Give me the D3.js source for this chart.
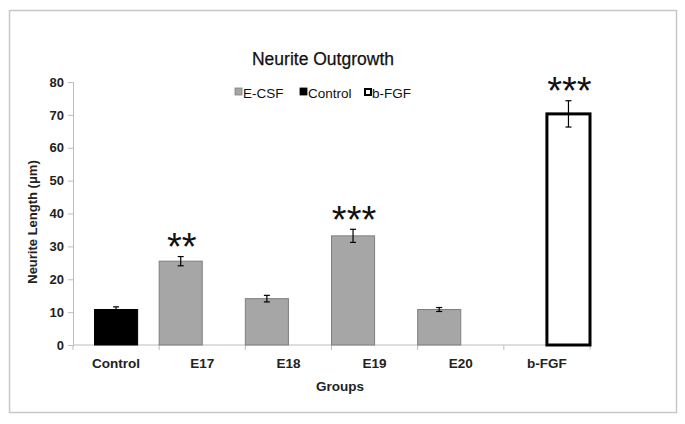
<!DOCTYPE html>
<html><head><meta charset="utf-8">
<script src="https://cdn.jsdelivr.net/npm/d3@7"></script>
<style>body{margin:0;background:#fff}svg{display:block}text{font-family:"Liberation Sans",Arial,sans-serif}</style>
</head><body><svg id="c" width="685" height="424"></svg>
<script>
const categories = ["Control","E17","E18","E19","E20","b-FGF"];
const series = ["E-CSF","Control","b-FGF"];
const seriesOf = ["Control","E-CSF","E-CSF","E-CSF","E-CSF","b-FGF"];
const values = [10.8, 25.5, 14.1, 33.2, 10.8, 70.3];
const errors = [0.8, 1.4, 1.0, 2.0, 0.6, 4.0];
const stars = ["", "**", "", "***", "", "***"];
const yTicks = [0,10,20,30,40,50,60,70,80];

const svg = d3.select("#c");
svg.append("rect").attr("x",9.5).attr("y",10.5).attr("width",667).attr("height",402)
  .attr("fill","#fff").attr("stroke","#c8c8c8").attr("stroke-width",1.5);

const m = {l:73, r:590, t:82, b:345};
const x = d3.scaleBand().domain(categories).range([m.l,m.r]).padding(0);
const y = d3.scaleLinear().domain([0,80]).range([m.b,m.t]);
const bw = x.bandwidth()/2;
const offset = {"E-CSF":0, "Control":0.25, "b-FGF":0.5};
const fills = {"E-CSF":"#a6a6a6","Control":"#000","b-FGF":"#fff"};
const strokes = {"E-CSF":"#7f7f7f","Control":"#000","b-FGF":"#000"};
const sw = {"E-CSF":1,"Control":1,"b-FGF":3};

// axes
const ya = svg.append("g").attr("transform",`translate(${m.l},0)`)
  .call(d3.axisLeft(y).tickValues(yTicks).tickSize(5).tickPadding(4));
ya.selectAll("path,line").attr("stroke","#bdbdbd");
ya.selectAll("text").attr("font-size",13).attr("font-weight","bold").attr("fill","#222");
const xa = svg.append("g").attr("transform",`translate(0,${m.b})`);
xa.append("line").attr("x1",m.l).attr("x2",m.r).attr("stroke","#bdbdbd");
xa.selectAll("line.t").data(categories.concat(["_end"])).join("line")
  .attr("x1",(d,i)=>i<categories.length?x(d):m.r).attr("x2",(d,i)=>i<categories.length?x(d):m.r)
  .attr("y1",0).attr("y2",5).attr("stroke","#bdbdbd");
xa.selectAll("text").data(categories).join("text")
  .attr("x",d=>x(d)+x.bandwidth()/2).attr("y",23).attr("text-anchor","middle")
  .attr("font-size",13.5).attr("font-weight","bold").attr("fill","#222").text(d=>d);

// bars
const bars = svg.append("g");
categories.forEach((c,i)=>{
  const s = seriesOf[i];
  const bx = x(c)+offset[s]*x.bandwidth();
  bars.append("rect").attr("x",bx).attr("y",y(values[i])).attr("width",bw)
    .attr("height",y(0)-y(values[i])).attr("fill",fills[s]).attr("stroke",strokes[s]).attr("stroke-width",sw[s]);
  const cx = bx+bw/2;
  const g = bars.append("g").attr("stroke","#000").attr("stroke-width",1.2);
  g.append("line").attr("x1",cx).attr("x2",cx).attr("y1",y(values[i]+errors[i])).attr("y2",y(values[i]-errors[i]));
  g.append("line").attr("x1",cx-3).attr("x2",cx+3).attr("y1",y(values[i]+errors[i])).attr("y2",y(values[i]+errors[i]));
  g.append("line").attr("x1",cx-3).attr("x2",cx+3).attr("y1",y(values[i]-errors[i])).attr("y2",y(values[i]-errors[i]));
  if(stars[i]) svg.append("text").attr("x",cx+1).attr("y",y(values[i]+errors[i])-1)
    .attr("text-anchor","middle").attr("font-size",38).attr("fill","#111").attr("dy","0.72em")
    .attr("transform",`translate(0,${-23})`).text(stars[i]);
});

// title
svg.append("text").attr("x",323).attr("y",65).attr("text-anchor","middle").attr("font-size",17.5)
  .attr("fill","#111").attr("stroke","#111").attr("stroke-width",0.25).text("Neurite Outgrowth");
// legend
const leg = [{s:"E-CSF",x:235},{s:"Control",x:300},{s:"b-FGF",x:364}];
leg.forEach(l=>{
  const o = l.s==="b-FGF";
  svg.append("rect").attr("x",l.x+(o?1:0)).attr("y",88+(o?1:0))
    .attr("width",o?6:7).attr("height",o?6:7)
    .attr("fill",fills[l.s]).attr("stroke",strokes[l.s]).attr("stroke-width",o?2:0.8);
  svg.append("text").attr("x",l.x+8).attr("y",98).attr("font-size",13.5).attr("fill","#111").text(l.s);
});
// axis titles
svg.append("text").attr("transform","translate(37,222) rotate(-90)").attr("text-anchor","middle")
  .attr("font-size",13).attr("font-weight","bold").attr("fill","#222").text("Neurite Length (μm)");
svg.append("text").attr("x",340).attr("y",391).attr("text-anchor","middle")
  .attr("font-size",13.5).attr("font-weight","bold").attr("fill","#222").text("Groups");
</script></body></html>
